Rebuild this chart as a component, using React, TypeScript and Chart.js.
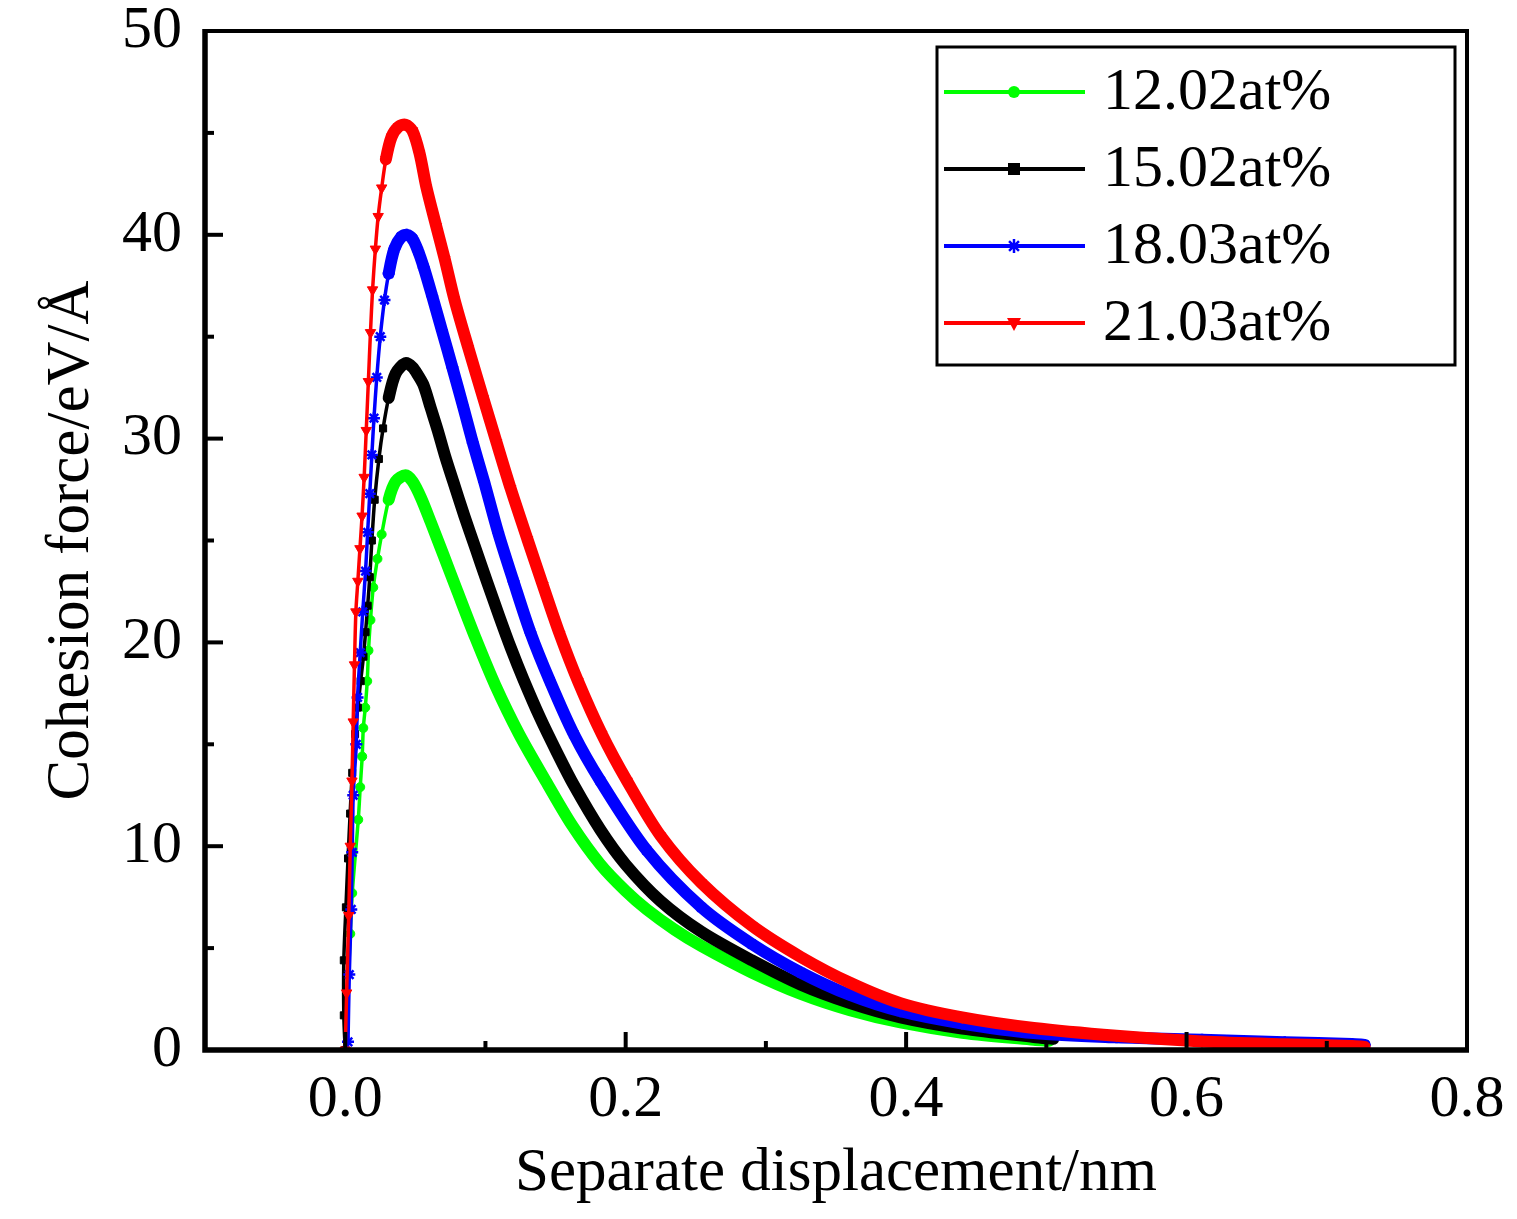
import { useEffect, useRef } from 'react'
import { Chart, registerables } from 'chart.js'

Chart.register(...registerables)

const SERIES_LABELS = ['12.02at%', '15.02at%', '18.03at%', '21.03at%']
const SERIES_COLORS = ['#00ff00', '#000000', '#0000ff', '#ff0000']

const GREEN_X = [0, 0.0036, 0.005, 0.0093, 0.0107, 0.0121, 0.0129, 0.0143, 0.0157, 0.0166, 0.018, 0.02, 0.023, 0.026, 0.031, 0.036, 0.043, 0.048, 0.054, 0.061, 0.07, 0.08, 0.093, 0.107, 0.124, 0.143, 0.162, 0.182, 0.2, 0.215, 0.235, 0.254, 0.29, 0.325, 0.36, 0.396, 0.44, 0.491, 0.502]
const GREEN_Y = [0, 5.7, 7.7, 11.3, 12.9, 14.4, 15.8, 16.8, 18.1, 19.6, 21.1, 22.7, 24.1, 25.3, 27.0, 27.9, 28.2, 27.9, 27.1, 25.9, 24.3, 22.5, 20.2, 17.9, 15.5, 13.2, 11.0, 9.1, 7.8, 6.9, 5.9, 5.1, 3.8, 2.75, 1.95, 1.35, 0.85, 0.5, 0.45]

const BLACK_X = [0, -0.001, -0.001, 0.0005, 0.002, 0.0035, 0.005, 0.007, 0.009, 0.011, 0.013, 0.0145, 0.016, 0.0175, 0.019, 0.021, 0.024, 0.027, 0.031, 0.036, 0.043, 0.048, 0.052, 0.056, 0.061, 0.066, 0.071, 0.077, 0.085, 0.093, 0.101, 0.11, 0.118, 0.127, 0.139, 0.151, 0.163, 0.182, 0.2, 0.225, 0.254, 0.29, 0.325, 0.36, 0.396, 0.44, 0.491, 0.505]
const BLACK_Y = [0, 1.7, 4.4, 7.0, 9.4, 11.6, 13.6, 15.5, 16.8, 18.1, 19.3, 20.5, 21.8, 23.2, 25.0, 27.0, 29.0, 30.5, 32.0, 33.2, 33.7, 33.5, 33.1, 32.6, 31.5, 30.4, 29.2, 27.9, 26.2, 24.6, 23.0, 21.25, 19.75, 18.2, 16.3, 14.6, 13.0, 10.8, 9.1, 7.3, 5.8, 4.4, 3.2, 2.3, 1.6, 1.05, 0.64, 0.55]

const BLUE_X = [0.002, 0.0029, 0.0043, 0.005, 0.0057, 0.0079, 0.0088, 0.0107, 0.0125, 0.0145, 0.016, 0.0175, 0.019, 0.0205, 0.0225, 0.025, 0.028, 0.031, 0.035, 0.04, 0.044, 0.048, 0.052, 0.056, 0.062, 0.069, 0.0764, 0.084, 0.091, 0.099, 0.109, 0.12, 0.132, 0.146, 0.163, 0.182, 0.215, 0.254, 0.29, 0.325, 0.36, 0.396, 0.44, 0.491, 0.55, 0.611, 0.67, 0.718, 0.727]
const BLUE_Y = [0.4, 3.7, 6.9, 9.7, 12.5, 15.0, 17.3, 19.5, 21.5, 23.5, 25.4, 27.3, 29.2, 31.0, 33.0, 35.0, 36.8, 38.1, 39.3, 39.9, 40.0, 39.8, 39.2, 38.4, 37.0, 35.3, 33.5, 31.6, 29.8, 27.9, 25.4, 23.0, 20.5, 18.1, 15.5, 13.2, 9.8, 7.0, 5.2, 3.8, 2.7, 1.9, 1.3, 0.83, 0.62, 0.5, 0.38, 0.3, 0.25]

const RED_X = [0, 0.001, 0.0025, 0.0036, 0.0048, 0.0057, 0.0066, 0.0076, 0.009, 0.0105, 0.012, 0.0135, 0.015, 0.0165, 0.018, 0.0195, 0.0215, 0.0235, 0.026, 0.029, 0.033, 0.038, 0.043, 0.048, 0.053, 0.058, 0.065, 0.071, 0.078, 0.088, 0.0986, 0.108, 0.118, 0.13, 0.141, 0.153, 0.166, 0.183, 0.201, 0.225, 0.254, 0.29, 0.325, 0.36, 0.396, 0.44, 0.491, 0.55, 0.611, 0.67, 0.718, 0.727]
const RED_Y = [0, 2.8, 6.6, 10.0, 13.2, 16.1, 18.9, 21.5, 23.0, 24.6, 26.2, 28.1, 30.4, 32.8, 35.2, 37.3, 39.3, 40.9, 42.3, 43.7, 44.8, 45.3, 45.4, 45.1, 44.0, 42.3, 40.4, 38.8, 36.8, 34.4, 31.95, 29.8, 27.55, 25.05, 22.8, 20.4, 18.1, 15.5, 13.2, 10.5, 8.2, 6.1, 4.56, 3.3, 2.3, 1.6, 1.08, 0.7, 0.42, 0.28, 0.2, 0.15]

const X_TICKS = [0.0, 0.2, 0.4, 0.6, 0.8]
const X_MINOR = [0.1, 0.3, 0.5, 0.7]
const Y_TICKS = [0, 10, 20, 30, 40, 50]
const Y_MINOR = [5, 15, 25, 35, 45]

const FONT = 'Liberation Serif'

const SERIES = [
  { xs: GREEN_X, ys: GREEN_Y, style: 'circle', radius: 4.5, rotation: 0 },
  { xs: BLACK_X, ys: BLACK_Y, style: 'rect', radius: 5, rotation: 0 },
  { xs: BLUE_X, ys: BLUE_Y, style: 'star', radius: 6, rotation: 0 },
  { xs: RED_X, ys: RED_Y, style: 'triangle', radius: 6, rotation: 180 },
]

function drawMarker(ctx: CanvasRenderingContext2D, style: string, x: number, y: number, color: string) {
  ctx.fillStyle = color
  ctx.strokeStyle = color
  ctx.lineWidth = 2.5
  ctx.beginPath()
  if (style === 'circle') {
    ctx.arc(x, y, 6, 0, Math.PI * 2)
    ctx.fill()
  } else if (style === 'rect') {
    ctx.fillRect(x - 6, y - 6, 12, 12)
  } else if (style === 'star') {
    for (let i = 0; i < 4; i++) {
      const a = (i * Math.PI) / 4
      ctx.moveTo(x - 7 * Math.cos(a), y - 7 * Math.sin(a))
      ctx.lineTo(x + 7 * Math.cos(a), y + 7 * Math.sin(a))
    }
    ctx.stroke()
  } else {
    ctx.moveTo(x - 7, y - 5)
    ctx.lineTo(x + 7, y - 5)
    ctx.lineTo(x, y + 8)
    ctx.closePath()
    ctx.fill()
  }
}

// ticks point inwards and sit over the curves, like the Origin export
const frameTicks = {
  id: 'frameTicks',
  afterDatasetsDraw(chart: any) {
    const { ctx, chartArea: a, scales } = chart
    const xs = scales.x
    const ys = scales.y
    ctx.save()
    ctx.strokeStyle = '#000'
    ctx.lineWidth = 4
    ctx.lineCap = 'butt'
    const line = (x1: number, y1: number, x2: number, y2: number) => {
      ctx.beginPath()
      ctx.moveTo(x1, y1)
      ctx.lineTo(x2, y2)
      ctx.stroke()
    }
    X_TICKS.forEach(v => { const p = xs.getPixelForValue(v); line(p, a.bottom, p, a.bottom - 18) })
    X_MINOR.forEach(v => { const p = xs.getPixelForValue(v); line(p, a.bottom, p, a.bottom - 9) })
    Y_TICKS.forEach(v => { const p = ys.getPixelForValue(v); line(a.left, p, a.left + 18, p) })
    Y_MINOR.forEach(v => { const p = ys.getPixelForValue(v); line(a.left, p, a.left + 9, p) })
    ctx.lineJoin = 'miter'
    ctx.lineWidth = 4
    ctx.strokeRect(a.left, a.top, a.right - a.left, a.bottom - a.top)
    ctx.lineWidth = 5.5
    ctx.beginPath()
    ctx.moveTo(a.left, a.top - 2)
    ctx.lineTo(a.left, a.bottom)
    ctx.lineTo(a.right + 2, a.bottom)
    ctx.stroke()
    ctx.restore()
  },
}

const boxLegend = {
  id: 'boxLegend',
  afterDraw(chart: any) {
    const { ctx, chartArea: a } = chart
    const left = a.right - 530
    const top = a.top + 16
    ctx.save()
    ctx.fillStyle = '#fff'
    ctx.fillRect(left, top, 518, 318)
    ctx.strokeStyle = '#000'
    ctx.lineWidth = 3
    ctx.strokeRect(left, top, 518, 318)
    SERIES_LABELS.forEach((label, i) => {
      const y = top + 45 + i * 77
      const color = SERIES_COLORS[i]
      ctx.strokeStyle = color
      ctx.lineWidth = 4
      ctx.beginPath()
      ctx.moveTo(left + 7, y)
      ctx.lineTo(left + 148, y)
      ctx.stroke()
      drawMarker(ctx, i === 3 ? 'tri' : SERIES[i].style, left + 77, y, color)
      ctx.fillStyle = '#000'
      ctx.font = `60px "${FONT}"`
      ctx.textBaseline = 'middle'
      ctx.textAlign = 'left'
      ctx.fillText(label, left + 166, y + 1)
    })
    ctx.restore()
  },
}

export default function App() {
  const canvasRef = useRef<HTMLCanvasElement>(null)
  const chartRef = useRef<Chart | null>(null)

  useEffect(() => {
    if (!canvasRef.current) return
    if (chartRef.current) chartRef.current.destroy()

    const datasets = SERIES.map((s, i) => {
      const peak = Math.max(...s.ys)
      return {
        label: SERIES_LABELS[i],
        data: s.xs.map((x, j) => ({ x, y: s.ys[j] })),
        borderColor: SERIES_COLORS[i],
        backgroundColor: SERIES_COLORS[i],
        pointStyle: s.style as any,
        pointRadius: s.radius,
        pointRotation: s.rotation,
        pointBorderWidth: s.style === 'star' ? 2.5 : 1,
        pointBackgroundColor: SERIES_COLORS[i],
        pointBorderColor: SERIES_COLORS[i],
        borderCapStyle: 'round' as const,
        borderJoinStyle: 'round' as const,
        tension: 0.3,
        order: 4 - i,
        segment: {
          borderWidth: (ctx: any) => {
            const y0 = ctx.p0.parsed.y
            const y1 = ctx.p1.parsed.y
            return y1 > y0 && y1 < peak * 0.965 ? 3.5 : 12
          },
        },
      }
    })

    chartRef.current = new Chart(canvasRef.current, {
      type: 'line',
      data: { datasets },
      plugins: [frameTicks, boxLegend],
      options: {
        responsive: true,
        maintainAspectRatio: false,
        animation: false,
        events: [],
        layout: { padding: { top: 31, right: 50, left: 0, bottom: 0 } },
        plugins: {
          legend: { display: false },
          tooltip: { enabled: false },
        },
        scales: {
          x: {
            type: 'linear',
            min: -0.1,
            max: 0.8,
            grid: { display: false, drawTicks: false },
            border: { display: false },
            afterBuildTicks: (scale: any) => { scale.ticks = X_TICKS.map(v => ({ value: v })) },
            afterFit: (scale: any) => {
              scale.height = 169
              scale.paddingLeft = 0
              scale.paddingRight = 0
            },
            ticks: {
              autoSkip: false,
              maxRotation: 0,
              padding: 20,
              color: '#000',
              font: { family: FONT, size: 60, lineHeight: 1 },
              callback: (v: any) => Number(v).toFixed(1),
            },
            title: {
              display: true,
              text: 'Separate displacement/nm',
              color: '#000',
              font: { family: FONT, size: 61 },
              padding: { top: 0, bottom: 8 },
            },
          },
          y: {
            type: 'linear',
            min: 0,
            max: 50,
            grid: { display: false, drawTicks: false },
            border: { display: false },
            afterBuildTicks: (scale: any) => { scale.ticks = Y_TICKS.map(v => ({ value: v })) },
            afterFit: (scale: any) => {
              scale.width = 205
              scale.paddingTop = 0
              scale.paddingBottom = 0
            },
            ticks: {
              padding: 23,
              color: '#000',
              font: { family: FONT, size: 60, lineHeight: 1 },
              callback: (v: any) => String(v),
            },
            title: {
              display: true,
              text: 'Cohesion force/eV/Å',
              color: '#000',
              font: { family: FONT, size: 61 },
              padding: { top: 35, bottom: 0 },
            },
          },
        },
      },
    })

    return () => { chartRef.current?.destroy() }
  }, [])

  return (
    <div style={{ position: 'fixed', left: 0, top: 0, width: 1517, height: 1219, background: '#fff' }}>
      <canvas ref={canvasRef} />
    </div>
  )
}
